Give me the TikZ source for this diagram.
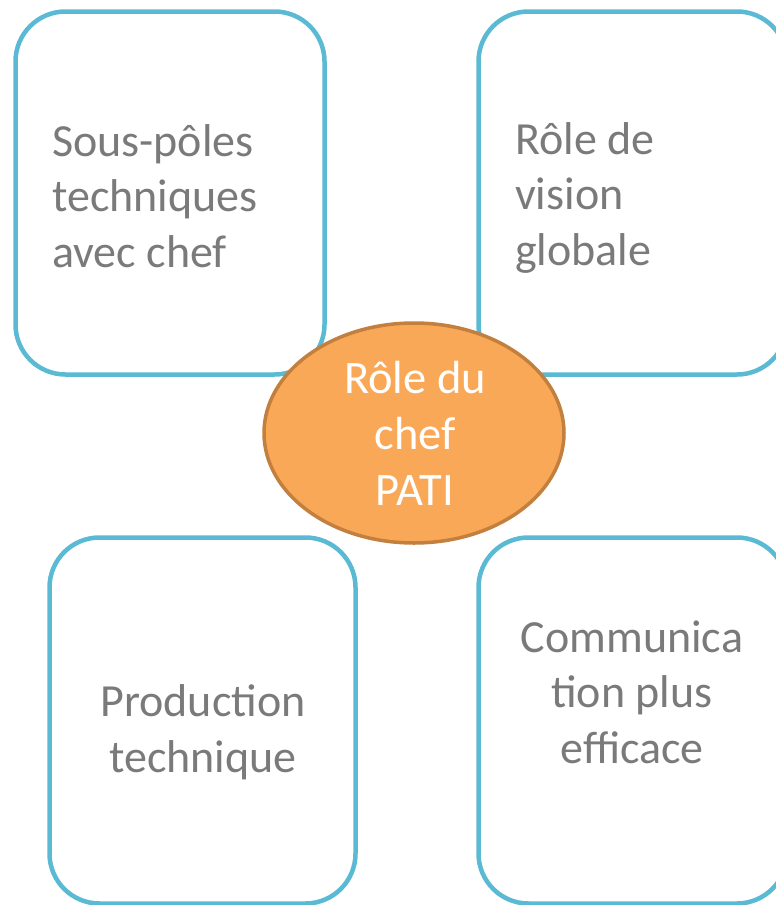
\documentclass[tikz,border=0pt]{standalone}
\usepackage{fontspec}
\setmainfont{Carlito}
\usetikzlibrary{shapes.geometric}
\definecolor{boxblue}{HTML}{5BBAD3}
\definecolor{ovalfill}{HTML}{F9A857}
\definecolor{ovaldraw}{HTML}{C27F3E}
\definecolor{txtgray}{HTML}{7A7A7A}
\tikzset{
  panel/.style={draw=boxblue, line width=4.5pt, rounded corners=50pt, fill=white, inner sep=0pt},
  paneltext/.style={text=txtgray, font=\fontsize{46}{55.5}\selectfont, inner sep=0pt},
  oval/.style={ellipse, draw=ovaldraw, fill=ovalfill, line width=3.5pt, inner sep=0pt},
  ovaltext/.style={text=white, font=\fontsize{46.5}{56}\selectfont, inner sep=0pt, align=center}
}
\begin{document}
\begin{tikzpicture}[x=1pt,y=-1pt]
\useasboundingbox (0,0) rectangle (776,905);
\node[panel, minimum width=309pt, minimum height=363pt] (tl) at (170,193) {};
\node[panel, minimum width=308.5pt, minimum height=363pt] (tr) at (632.75,193) {};
\node[panel, minimum width=306pt, minimum height=366pt] (bl) at (202.5,720.5) {};
\node[panel, minimum width=308.5pt, minimum height=366pt] (br) at (632.75,720.5) {};
\node[oval, minimum width=300pt, minimum height=220pt] (c) at (414,433) {};
\node[paneltext, align=left, anchor=base west] (tlt) at (52,267) {Sous-pôles\\techniques\\avec chef};
\node[paneltext, align=left, anchor=base west] (trt) at (515,265) {Rôle de\\vision\\globale};
\node[paneltext, align=center, anchor=base] (blt) at (203,772) {Production\\technique};
\node[paneltext, align=center, anchor=base] (brt) at (632,763) {Communica\\tion plus\\efficace};
\node[ovaltext, anchor=base] (ct) at (415,505) {Rôle du\\chef\\PATI};
\end{tikzpicture}
\end{document}
